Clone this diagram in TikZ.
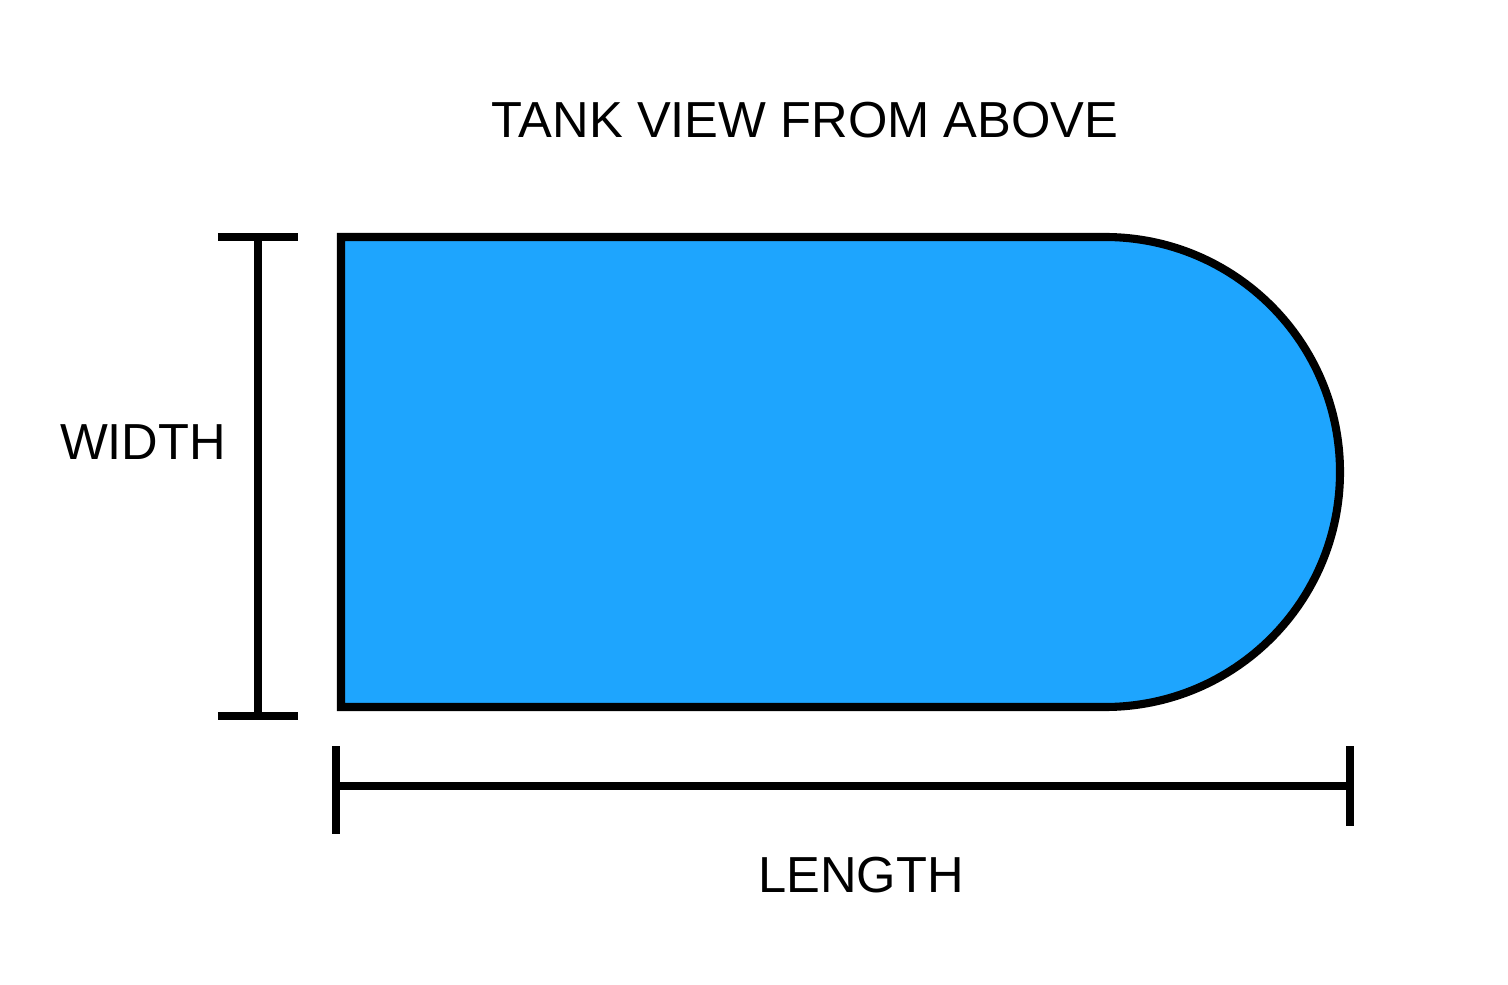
\documentclass[tikz,border=0pt]{standalone}
\usepackage{fontspec}
\setmainfont{Liberation Sans}
\usetikzlibrary{positioning}
\definecolor{tankblue}{RGB}{30,165,254}

\begin{document}
\begin{tikzpicture}[x=0.01cm,y=-0.01cm,
  every node/.style={font=\fontsize{14.4}{17}\selectfont},
  dim/.style={line width=2.3pt},
  outline/.style={line width=2.3pt, fill=tankblue}]
  \useasboundingbox (0,0) rectangle (1508,985);

  \node (title) at (805,120) {TANK VIEW FROM ABOVE};
  \node (width) at (143,442) {WIDTH};
  \node (length) at (861,875) {LENGTH};

  % tank outline
  \draw [outline] (341,237) -- (1105,237) arc (-90:90:235) -- (341,707) -- cycle;

  % width marker
  \coordinate (wtop) at (258,237);
  \coordinate (wbot) at (258,716);
  \draw [dim] (wtop) -- (wbot);
  \draw [dim] ([xshift=-0.4cm]wtop) -- ([xshift=0.4cm]wtop);
  \draw [dim] ([xshift=-0.4cm]wbot) -- ([xshift=0.4cm]wbot);

  % length marker
  \coordinate (lleft) at (336,786);
  \coordinate (lright) at (1350,786);
  \draw [dim] (lleft) -- (lright);
  \draw [dim] (336,746) -- (336,834);
  \draw [dim] (1350,746) -- (1350,826);
\end{tikzpicture}
\end{document}
